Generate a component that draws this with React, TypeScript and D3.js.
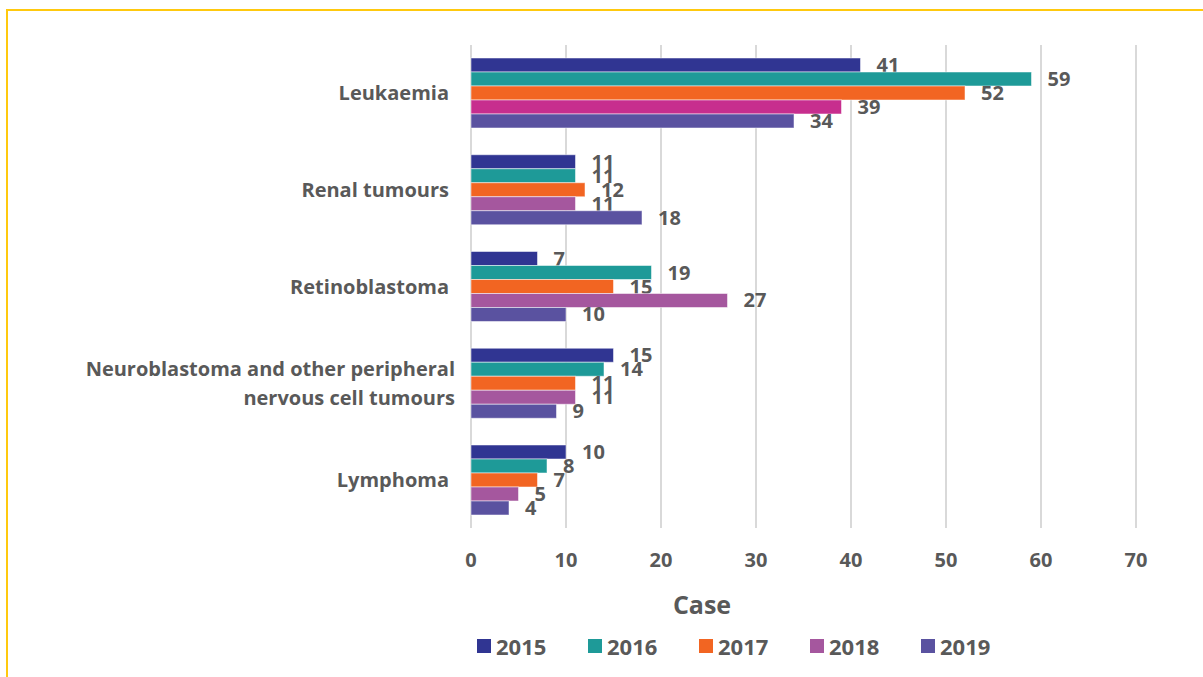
import React from "react";
import * as d3 from "d3";

const categories = [
  "Leukaemia",
  "Renal tumours",
  "Retinoblastoma",
  "Neuroblastoma and other peripheral|nervous cell tumours",
  "Lymphoma",
];
const years = ["2015", "2016", "2017", "2018", "2019"];
const values2015 = [41, 11, 7, 15, 10];
const values2016 = [59, 11, 19, 14, 8];
const values2017 = [52, 12, 15, 11, 7];
const values2018 = [39, 11, 27, 11, 5];
const values2019 = [34, 18, 10, 9, 4];
const seriesValues = [values2015, values2016, values2017, values2018, values2019];
const xTicks = [0, 10, 20, 30, 40, 50, 60, 70];
const xTitle = "Case";

const colors = ["#303592", "#1E9A98", "#F26522", "#A5579E", "#5A52A0"];
// Leukaemia 2018 bar is drawn in a stronger magenta in the source
const overrideColor: Record<string, string> = { "0-3": "#C72E8E" };

const W = 1203;
const H = 677;
const FONT = "'Open Sans', sans-serif";
const TEXT = "#595959";

export default function App() {
  const x = d3.scaleLinear().domain([0, 70]).range([471, 1136]);
  const y = d3
    .scaleBand<number>()
    .domain(d3.range(categories.length))
    .range([58, 515])
    .paddingInner(0.2765)
    .paddingOuter(0);
  const inner = d3.scaleBand<number>().domain(d3.range(years.length)).range([0, y.bandwidth()]);

  return (
    <svg width={W} height={H} style={{ position: "absolute", left: 0, top: 0, background: "#fff" }} fontFamily={FONT}>
      {/* frame */}
      <line x1={6} x2={W} y1={10} y2={10} stroke="#FFC90E" strokeWidth={2} />
      <line x1={7} x2={7} y1={9} y2={H} stroke="#FFC90E" strokeWidth={2} />
      {/* gridlines */}
      {xTicks.map((t) => (
        <line key={t} x1={x(t)} x2={x(t)} y1={45} y2={528} stroke="#D9D9D9" strokeWidth={2} />
      ))}
      {/* bars */}
      {categories.map((c, ci) =>
        years.map((yr, si) => {
          const v = seriesValues[si][ci];
          const by = (y(ci) as number) + (inner(si) as number);
          const col = overrideColor[`${ci}-${si}`] || colors[si];
          return (
            <g key={`${ci}-${si}`}>
              <rect x={x(0)} y={by} width={x(v) - x(0)} height={inner.bandwidth()} fill={col} stroke="#ffffff" strokeOpacity={0.5} strokeWidth={1} />
              <text x={x(v) + 16} y={by + inner.bandwidth() / 2} dy="0.35em" fill={TEXT} fontSize={20} fontWeight={700}>
                {v}
              </text>
            </g>
          );
        })
      )}
      {/* category labels */}
      {categories.map((c, ci) => {
        const lines = c.split("|");
        const cy = (y(ci) as number) + y.bandwidth() / 2;
        const lh = 29;
        return (
          <text key={c} textAnchor="end" fill={TEXT} fontSize={20} fontWeight={700}>
            {lines.map((l, li) => (
              <tspan key={li} x={lines.length > 1 ? 455 : 449} y={cy + (li - (lines.length - 1) / 2) * lh} dy="0.35em">
                {l}
              </tspan>
            ))}
          </text>
        );
      })}
      {/* x tick labels */}
      {xTicks.map((t) => (
        <text key={t} x={x(t)} y={560} dy="0.35em" textAnchor="middle" fill={TEXT} fontSize={20} fontWeight={700}>
          {t}
        </text>
      ))}
      <text x={702} y={605} dy="0.35em" textAnchor="middle" fill={TEXT} fontSize={25} fontWeight={700}>
        {xTitle}
      </text>
      {/* legend */}
      {years.map((yr, i) => {
        const lx = 477 + i * 111;
        return (
          <g key={yr}>
            <rect x={lx} y={639} width={14} height={14} fill={colors[i]} />
            <text x={lx + 19} y={647} dy="0.35em" fill={TEXT} fontSize={22} fontWeight={700}>
              {yr}
            </text>
          </g>
        );
      })}
    </svg>
  );
}
